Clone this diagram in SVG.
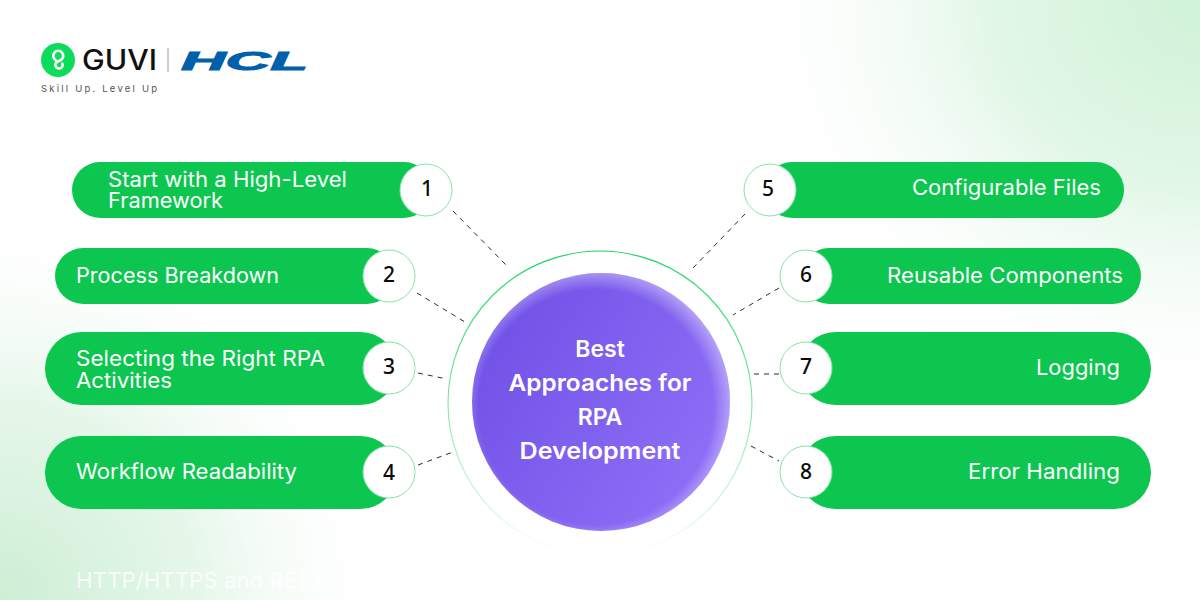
<svg xmlns="http://www.w3.org/2000/svg" width="1200" height="600" viewBox="0 0 1200 600">
  <style>
    .pill { fill: #0cc64f; }
    .badge { fill: #ffffff; stroke: #86e3a9; stroke-width: 1; }
    .num { font-family: "Noto Sans", "Open Sans", sans-serif; font-size: 21px; font-weight: 500; fill: #0b0b0b; text-anchor: middle; }
    .label { font-family: Inter, "Open Sans", sans-serif; font-size: 21px; font-weight: 400; fill: #ffffff; }
    .end { text-anchor: end; }
    .title { font-family: Inter, "Open Sans", sans-serif; font-size: 23px; font-weight: 600; fill: #ffffff; text-anchor: middle; }
    .dash { fill: none; stroke: #2b2b2b; stroke-width: 1; stroke-dasharray: 5 5; }
  </style>
  <defs>
    <radialGradient id="glowTop" gradientUnits="userSpaceOnUse" cx="1200" cy="0" r="1" gradientTransform="translate(1200 0) scale(470 420) translate(-1200 0)">
      <stop offset="0" stop-color="#cff2d8"/>
      <stop offset="0.45" stop-color="#e2f7e7"/>
      <stop offset="1" stop-color="#ffffff" stop-opacity="0"/>
    </radialGradient>
    <radialGradient id="glowBottom" gradientUnits="userSpaceOnUse" cx="0" cy="600" r="1" gradientTransform="translate(0 600) scale(400 400) translate(0 -600)">
      <stop offset="0" stop-color="#cdeed5"/>
      <stop offset="0.5" stop-color="#e6f7ea"/>
      <stop offset="1" stop-color="#ffffff" stop-opacity="0"/>
    </radialGradient>
    <linearGradient id="ringStroke" x1="0" y1="0" x2="0" y2="1">
      <stop offset="0" stop-color="#1fd366"/>
      <stop offset="0.5" stop-color="#86e8ab"/>
      <stop offset="0.85" stop-color="#d5f7e1"/>
      <stop offset="1" stop-color="#f2fdf6" stop-opacity="0.2"/>
    </linearGradient>
    <linearGradient id="coreFill" x1="0" y1="0.2" x2="1" y2="0.8">
      <stop offset="0" stop-color="#7050e6"/>
      <stop offset="1" stop-color="#9071f8"/>
    </linearGradient>
    <radialGradient id="coreEdge" cx="0.48" cy="0.52" r="0.53">
      <stop offset="0.86" stop-color="#ffffff" stop-opacity="0"/>
      <stop offset="1" stop-color="#ffffff" stop-opacity="0.4"/>
    </radialGradient>
  </defs>

  <!-- page background with corner glows -->
  <rect width="1200" height="600" fill="#ffffff"/>
  <rect x="730" y="0" width="470" height="420" fill="url(#glowTop)"/>
  <rect x="0" y="200" width="400" height="400" fill="url(#glowBottom)"/>
  <text class="label" x="76" y="588" fill-opacity="0.8" textLength="250" lengthAdjust="spacingAndGlyphs">HTTP/HTTPS and REST</text>

  <!-- brand lockup -->
  <g id="logo">
    <circle cx="58" cy="60" r="17" fill="#0ddc5b"/>
    <path d="M55.5 60a5 5 0 1 1 5.5 0c-2 1-4.500 1.200-5.500 3.500a3.800 3.800 0 0 0 5 4.700a3.400 3.400 0 0 0 1.800-4.600" fill="none" stroke="#ffffff" stroke-width="2.6" stroke-linecap="round"/>
    <text x="82" y="70" font-family="Inter, 'Open Sans', sans-serif" font-size="28" font-weight="500" fill="#111111" textLength="75" lengthAdjust="spacingAndGlyphs">GUVI</text>
    <line x1="168" y1="48" x2="168" y2="72" stroke="#9a9a9a" stroke-width="1"/>
    <text x="181" y="70" font-family="'Liberation Sans', Arial, sans-serif" font-size="25" font-weight="700" font-style="italic" fill="#0060aa" stroke="#0060aa" stroke-width="1" textLength="127" lengthAdjust="spacingAndGlyphs">HCL</text>
    <text x="41" y="92" font-family="Inter, 'Open Sans', sans-serif" font-size="9.5" fill="#555555" textLength="116">Skill Up. Level Up</text>
  </g>

  <!-- dashed links from the hub to each item -->
  <g id="connectors">
    <line class="dash" x1="453" y1="211" x2="509" y2="268"/>
    <line class="dash" x1="417" y1="293" x2="465" y2="322"/>
    <line class="dash" x1="418" y1="373" x2="447" y2="379"/>
    <line class="dash" x1="418" y1="465" x2="453" y2="452"/>
    <line class="dash" x1="745" y1="214" x2="693" y2="268"/>
    <line class="dash" x1="779" y1="288" x2="733" y2="315"/>
    <line class="dash" x1="754" y1="374" x2="780" y2="374"/>
    <line class="dash" x1="751" y1="446" x2="779" y2="461"/>
  </g>

  <!-- central hub -->
  <g id="hub">
    <circle cx="600" cy="403" r="152" fill="none" stroke="url(#ringStroke)" stroke-width="1.2"/>
    <circle cx="601" cy="402" r="129" fill="url(#coreFill)"/>
    <circle cx="601" cy="402" r="129" fill="url(#coreEdge)"/>
    <text class="title" x="600" y="357">Best</text>
    <text class="title" x="600" y="391" textLength="183" lengthAdjust="spacingAndGlyphs">Approaches for</text>
    <text class="title" x="600" y="425">RPA</text>
    <text class="title" x="600" y="459" textLength="161" lengthAdjust="spacingAndGlyphs">Development</text>
  </g>

  <g id="item-1">
    <rect class="pill" x="72" y="162" width="360" height="56" rx="28"/>
    <circle class="badge" cx="426" cy="190" r="26"/>
    <text class="num" x="427" y="196">1</text>
    <text class="label"><tspan x="108" y="187" textLength="239" lengthAdjust="spacingAndGlyphs">Start with a High-Level</tspan><tspan x="108" y="208" textLength="115" lengthAdjust="spacingAndGlyphs">Framework</tspan></text>
  </g>
  <g id="item-2">
    <rect class="pill" x="55" y="248" width="340" height="56" rx="28"/>
    <circle class="badge" cx="389" cy="276" r="26"/>
    <text class="num" x="389" y="282">2</text>
    <text class="label" x="76" y="283" textLength="203" lengthAdjust="spacingAndGlyphs">Process Breakdown</text>
  </g>
  <g id="item-3">
    <rect class="pill" x="45" y="332" width="352" height="73" rx="36.5"/>
    <circle class="badge" cx="389" cy="368" r="26"/>
    <text class="num" x="389" y="374">3</text>
    <text class="label"><tspan x="76" y="366" textLength="249" lengthAdjust="spacingAndGlyphs">Selecting the Right RPA</tspan><tspan x="76" y="388" textLength="96" lengthAdjust="spacingAndGlyphs">Activities</tspan></text>
  </g>
  <g id="item-4">
    <rect class="pill" x="45" y="436" width="352" height="73" rx="36.5"/>
    <circle class="badge" cx="389" cy="472" r="26"/>
    <text class="num" x="389" y="480">4</text>
    <text class="label" x="76" y="479" textLength="221" lengthAdjust="spacingAndGlyphs">Workflow Readability</text>
  </g>
  <g id="item-5">
    <rect class="pill" x="764" y="162" width="360" height="56" rx="28"/>
    <circle class="badge" cx="770" cy="190" r="26"/>
    <text class="num" x="768" y="196">5</text>
    <text class="label end" x="1101" y="195" textLength="189" lengthAdjust="spacingAndGlyphs">Configurable Files</text>
  </g>
  <g id="item-6">
    <rect class="pill" x="801" y="248" width="340" height="56" rx="28"/>
    <circle class="badge" cx="806" cy="276" r="26"/>
    <text class="num" x="806" y="282">6</text>
    <text class="label end" x="1123" y="283" textLength="236" lengthAdjust="spacingAndGlyphs">Reusable Components</text>
  </g>
  <g id="item-7">
    <rect class="pill" x="799" y="332" width="352" height="73" rx="36.5"/>
    <circle class="badge" cx="806" cy="368" r="26"/>
    <text class="num" x="806" y="374">7</text>
    <text class="label end" x="1120" y="375" textLength="84" lengthAdjust="spacingAndGlyphs">Logging</text>
  </g>
  <g id="item-8">
    <rect class="pill" x="799" y="436" width="352" height="73" rx="36.5"/>
    <circle class="badge" cx="806" cy="472" r="26"/>
    <text class="num" x="806" y="479">8</text>
    <text class="label end" x="1120" y="479" textLength="152" lengthAdjust="spacingAndGlyphs">Error Handling</text>
  </g>
</svg>
